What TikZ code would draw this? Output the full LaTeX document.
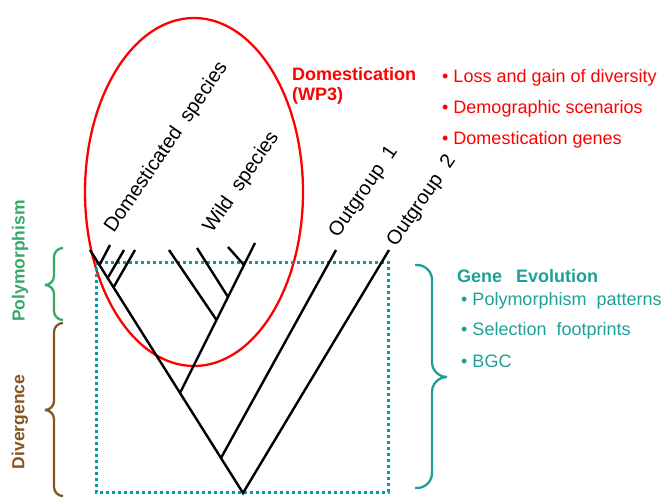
\documentclass[tikz,border=0pt]{standalone}
\usepackage{fontspec}
\setmainfont{Liberation Sans}
\definecolor{dred}{RGB}{255,0,0}
\definecolor{tealtxt}{RGB}{30,160,150}
\definecolor{tealdot}{RGB}{0,160,160}
\definecolor{pgreen}{RGB}{56,168,106}
\definecolor{dbrown}{RGB}{135,85,35}
\newcommand\txtA{\fontsize{18pt}{21pt}\selectfont}
\newcommand\txtL{\fontsize{20pt}{23pt}\selectfont}
\newcommand\txtB{\fontsize{17.5pt}{21pt}\selectfont\bfseries}
\tikzset{
  branch/.style={line width=2.4pt, black},
  redline/.style={line width=2.3pt, dred},
  tealdots/.style={line width=3pt, tealdot, dash pattern=on 3pt off 3pt},
  lbl/.style={font=\txtL, inner sep=0pt, rotate=55.5},
  txt/.style={font=\txtA, inner sep=0pt, anchor=base west},
  bracestyle/.style={line width=2.3pt},
}
\begin{document}
\begin{tikzpicture}[x=1pt,y=-1pt]
\useasboundingbox (0,0) rectangle (668,497);
% ellipse
\draw[redline] (194,192) ellipse [x radius=109pt, y radius=174pt];
% dotted rectangle
\draw[tealdots] (96,262) rectangle (388,492);
% tree coordinates
\coordinate (R) at (243,493);
\coordinate (D0) at (90,250);
\coordinate (D1) at (110,245);
\coordinate (D2) at (124,250);
\coordinate (D3) at (135,250);
\coordinate (n1) at (99.5,265);
\coordinate (n2) at (107.3,278.7);
\coordinate (n3) at (113.4,287.5);
\coordinate (W) at (180,393);
\coordinate (O1) at (221,458);
\coordinate (W1) at (169,250);
\coordinate (W2) at (197,248);
\coordinate (W3) at (228,247);
\coordinate (W4) at (255,243);
\coordinate (A) at (216.5,320);
\coordinate (B) at (228,297);
\coordinate (C) at (244,265);
\coordinate (T1) at (336,250);
\coordinate (T2) at (389,250);
% branches
\draw[branch] (D0) -- (R) -- (T2);
\draw[branch] (D1) -- (n1);
\draw[branch] (D2) -- (n2);
\draw[branch] (D3) -- (n3);
\draw[branch] (W4) -- (W);
\draw[branch] (W1) -- (A);
\draw[branch] (W2) -- (B);
\draw[branch] (W3) -- (C);
\draw[branch] (O1) -- (T1);
% leaf labels
\node[lbl] (tdom) at (166.5,147.5) {Domesticated\ \ species};
\node[lbl] (twild) at (241.5,182.5) {Wild\ \ species};
\node[lbl] (tout1) at (364,192) {Outgroup\ \ 1};
\node[lbl] (tout2) at (422,201.5) {Outgroup\ \ 2};
% domestication text
\node[txt, dred, font=\txtA\bfseries] (dom) at (292,81) {Domestication};
\node[txt, dred, font=\txtA\bfseries] (wp3) at (292,101) {(WP3)};
\node[txt, dred] (b1) at (442,83) {• Loss and gain of diversity};
\node[txt, dred] (b2) at (442,114) {• Demographic scenarios};
\node[txt, dred] (b3) at (442,145) {• Domestication genes};
% gene evolution text
\node[txt, tealtxt, font=\txtA\bfseries] (ge) at (457,282) {Gene\hspace{14pt}Evolution};
\node[txt, tealtxt] (g1) at (461,305) {• Polymorphism\ \ patterns};
\node[txt, tealtxt] (g2) at (461,335) {• Selection\ \ footprints};
\node[txt, tealtxt] (g3) at (461,367) {• BGC};
% left labels
\node[rotate=90, font=\txtB, pgreen, inner sep=0pt] (poly) at (20,261) {Polymorphism};
\node[rotate=90, font=\txtB, dbrown, inner sep=0pt] (div) at (20,422) {Divergence};
% braces
\draw[bracestyle, pgreen, rounded corners=9pt] (63,248) -- (54,248) -- (54,285) -- (45,285);
\draw[bracestyle, pgreen, rounded corners=9pt] (63,320) -- (54,320) -- (54,285) -- (45,285);
\draw[bracestyle, dbrown, rounded corners=9pt] (63,323) -- (54,323) -- (54,410) -- (45,410);
\draw[bracestyle, dbrown, rounded corners=9pt] (63,496) -- (54,496) -- (54,410) -- (45,410);
\draw[bracestyle, tealtxt, rounded corners=15pt] (415,265) -- (432,265) -- (432,377) -- (447,377);
\draw[bracestyle, tealtxt, rounded corners=15pt] (415,488) -- (432,488) -- (432,377) -- (447,377);
\end{tikzpicture}
\end{document}
